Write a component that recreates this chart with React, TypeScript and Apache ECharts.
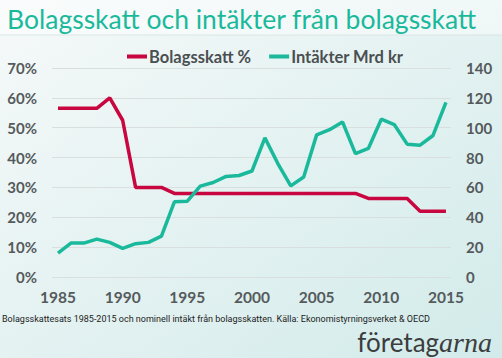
import React, { useEffect, useRef } from "react";
import * as echarts from "echarts";

const years = [1985,1986,1987,1988,1989,1990,1991,1992,1993,1994,1995,1996,1997,1998,1999,2000,2001,2002,2003,2004,2005,2006,2007,2008,2009,2010,2011,2012,2013,2014,2015];
const taxRate = [56.5,56.5,56.5,56.5,60,52.5,30,30,30,28,28,28,28,28,28,28,28,28,28,28,28,28,28,28,26.3,26.3,26.3,26.3,22,22,22];
const revenue = [16,22.7,22.7,25.4,23.2,19.2,22.3,23.2,27.4,50.4,50.8,60.9,63.3,67.4,68,71,93.2,76,61,67,95.2,98.7,103.9,82.7,86.1,105.7,102.1,89,88.3,94.8,117];
const xTicks = [1985,1990,1995,2000,2005,2010,2015];
const title = "Bolagsskatt och intäkter från bolagsskatt";
const footnote = "Bolagsskattesats 1985-2015 och nominell intäkt från bolagsskatten. Källa: Ekonomistyrningsverket & OECD";
const seriesNames = ["Bolagsskatt %", "Intäkter Mrd kr"];

const RED = "#c8063f";
const TEAL = "#1bb99c";
const LABEL = "#555a5c";

export default function App() {
  const ref = useRef<HTMLDivElement>(null);
  useEffect(() => {
    document.body.style.margin = "0";
    const chart = echarts.init(ref.current!, null, { renderer: "svg" });
    chart.setOption({
      animation: false,
      backgroundColor: new echarts.graphic.LinearGradient(0, 0, 1, 1, [
        { offset: 0, color: "#f6f9f9" },
        { offset: 1, color: "#d2ebea" },
      ]),
      textStyle: { fontFamily: "Lato" },
      legend: {
        top: 43,
        left: 122,
        itemGap: 18,
        itemWidth: 20,
        itemHeight: 4,
        icon: "rect",
        textStyle: { fontFamily: "Lato", fontWeight: "bold", fontSize: 16.5, color: "#4a4f51", padding: [0, 0, 0, -3] },
        data: seriesNames,
      },
      grid: { left: 52, right: 51, top: 68, bottom: 81 },
      xAxis: {
        type: "value",
        min: 1984.536,
        max: 2015.39,
        axisLine: { show: false },
        axisTick: { show: false },
        splitLine: { show: false },
        axisLabel: {
          customValues: xTicks,
          formatter: (v: number) => String(v),
          margin: 12,
          fontFamily: "Lato",
          fontWeight: "bold",
          fontSize: 15.5,
          color: LABEL,
        },
      },
      yAxis: [
        {
          type: "value",
          min: 0,
          max: 70,
          interval: 10,
          axisLine: { show: false },
          axisTick: { show: false },
          splitLine: { lineStyle: { color: "#d9dede", width: 1 } },
          axisLabel: { formatter: "{value}%", margin: 15, fontFamily: "Lato", fontWeight: "bold", fontSize: 15, color: LABEL },
        },
        {
          type: "value",
          min: 0,
          max: 140,
          interval: 20,
          axisLine: { show: false },
          axisTick: { show: false },
          splitLine: { show: false },
          axisLabel: { margin: 15, fontFamily: "Lato", fontWeight: "bold", fontSize: 15, color: LABEL },
        },
      ],
      series: [
        {
          name: seriesNames[0],
          type: "line",
          yAxisIndex: 0,
          data: years.map((y, i) => [y, taxRate[i]]),
          showSymbol: false,
          lineStyle: { color: RED, width: 3.5 },
          itemStyle: { color: RED },
        },
        {
          name: seriesNames[1],
          type: "line",
          yAxisIndex: 1,
          data: years.map((y, i) => [y, revenue[i]]),
          showSymbol: false,
          lineStyle: { color: TEAL, width: 3.5 },
          itemStyle: { color: TEAL },
        },
      ],
      graphic: [
        { type: "rect", shape: { x: 0, y: 0, width: 502, height: 35 }, style: { fill: "rgba(255,255,255,0.45)" }, z: -1 },
        { type: "line", shape: { x1: 0, y1: 35, x2: 502, y2: 35 }, style: { stroke: "#dbe5e5", lineWidth: 1 } },
        {
          type: "text",
          x: 7,
          y: 19,
          style: { text: title, fill: "#1bb99c", font: "26.5px Lato", textVerticalAlign: "middle" },
        },
        {
          type: "text",
          x: 2,
          y: 319,
          style: { text: footnote, fill: "#222", font: "9px Roboto", textVerticalAlign: "middle" },
        },
        {
          type: "text",
          x: 492,
          y: 342,
          style: {
            text: "{a|företag}{b|arna}",
            align: "right",
            verticalAlign: "middle",
            rich: {
              a: { fontFamily: "Lato", fontSize: 26, fill: "#3b3d3e", fontWeight: "normal" },
              b: { fontFamily: "Liberation Serif", fontStyle: "italic", fontSize: 28, fill: "#3b3d3e" },
            },
          },
        },
      ],
    });
    return () => chart.dispose();
  }, []);
  return <div ref={ref} style={{ width: 502, height: 358 }} />;
}
